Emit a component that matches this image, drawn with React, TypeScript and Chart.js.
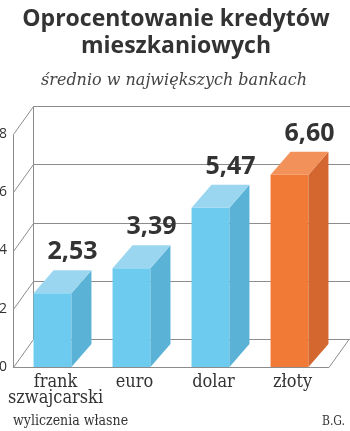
import React, { useEffect, useRef } from "react";
import { Chart, registerables } from "chart.js";

Chart.register(...registerables);

const categories: (string | string[])[] = [["frank", "szwajcarski"], "euro", "dolar", "złoty"];
const values: number[] = [2.53, 3.39, 5.47, 6.6];
const frontColors: string[] = ["#6ccbef", "#6ccbef", "#6ccbef", "#f07a36"];
const sideColors: string[] = ["#5ab3d6", "#5ab3d6", "#5ab3d6", "#d4672f"];
const topColors: string[] = ["#9bd6f1", "#9bd6f1", "#9bd6f1", "#f3915a"];
const yTicks: number[] = [0, 2, 4, 6, 8];
const yMin = 0;
const yMax = 8;

const WALL_DX = 20;
const WALL_DY = -28;
const BAR_DX = 20;
const BAR_DY = -23;

const fmt = (v: number) => v.toFixed(2).replace(".", ",");

const box3d = {
  id: "box3d",
  beforeDatasetsDraw(chart: any) {
    const { ctx, chartArea: a, scales } = chart;
    const y = scales.y;
    ctx.save();
    ctx.strokeStyle = "#8c8c8c";
    ctx.lineWidth = 1;
    for (const v of yTicks) {
      const py = Math.round(y.getPixelForValue(v)) + 0.5;
      ctx.beginPath();
      ctx.moveTo(a.left + 0.5, py);
      ctx.lineTo(a.left + WALL_DX + 0.5, py + WALL_DY);
      ctx.lineTo(a.right + WALL_DX + 2, py + WALL_DY);
      ctx.stroke();
    }
    const top = Math.round(y.getPixelForValue(yMax)) + 0.5;
    const bot = Math.round(y.getPixelForValue(yMin)) + 0.5;
    ctx.beginPath();
    ctx.moveTo(a.left + WALL_DX + 0.5, top + WALL_DY);
    ctx.lineTo(a.left + WALL_DX + 0.5, bot + WALL_DY);
    ctx.stroke();
    ctx.beginPath();
    ctx.moveTo(a.left + 0.5, top);
    ctx.lineTo(a.left + 0.5, bot);
    ctx.stroke();
    ctx.beginPath();
    ctx.moveTo(a.left, bot);
    ctx.lineTo(a.right, bot);
    ctx.lineTo(a.right + WALL_DX, bot + WALL_DY);
    ctx.stroke();
    ctx.restore();
  },
  afterDatasetsDraw(chart: any) {
    const { ctx } = chart;
    const meta = chart.getDatasetMeta(0);
    ctx.save();
    meta.data.forEach((bar: any, i: number) => {
      const { x, y, base, width } = bar.getProps(["x", "y", "base", "width"], true);
      const l = x - width / 2;
      const r = x + width / 2;
      ctx.fillStyle = sideColors[i];
      ctx.beginPath();
      ctx.moveTo(r, y);
      ctx.lineTo(r + BAR_DX, y + BAR_DY);
      ctx.lineTo(r + BAR_DX, base + BAR_DY);
      ctx.lineTo(r, base);
      ctx.closePath();
      ctx.fill();
      ctx.fillStyle = topColors[i];
      ctx.beginPath();
      ctx.moveTo(l, y);
      ctx.lineTo(l + BAR_DX, y + BAR_DY);
      ctx.lineTo(r + BAR_DX, y + BAR_DY);
      ctx.lineTo(r, y);
      ctx.closePath();
      ctx.fill();
      ctx.fillStyle = "#333333";
      ctx.font = "bold 25px 'Open Sans', sans-serif";
      ctx.textAlign = "center";
      ctx.textBaseline = "middle";
      ctx.fillText(fmt(values[i]), x + BAR_DX, y + BAR_DY - 18);
    });
    ctx.restore();
  },
};

export default function App() {
  const ref = useRef<HTMLCanvasElement | null>(null);

  useEffect(() => {
    if (!ref.current) return;
    const chart = new Chart(ref.current, {
      type: "bar",
      data: {
        labels: categories,
        datasets: [
          {
            data: values,
            backgroundColor: frontColors,
            borderWidth: 0,
            barPercentage: 0.48,
            categoryPercentage: 1,
          },
        ],
      },
      options: {
        responsive: false,
        animation: false,
        layout: { padding: { left: 0, top: 134, right: 21, bottom: 0 } },
        plugins: {
          legend: { display: false },
          tooltip: { enabled: false },
          title: { display: false },
        },
        scales: {
          x: {
            grid: { display: false, drawTicks: false },
            border: { display: false },
            ticks: {
              padding: 7,
              labelOffset: 3,
              color: "#333333",
              font: { family: "'DejaVu Serif Condensed', 'DejaVu Serif', serif", size: 18, lineHeight: "16px" },
              maxRotation: 0,
              autoSkip: false,
            },
            afterFit: (s: any) => {
              s.height = 64;
              s.paddingLeft = 0;
              s.paddingRight = 0;
            },
          },
          y: {
            min: yMin,
            max: yMax,
            grid: { display: false, drawTicks: false },
            border: { display: false },
            ticks: {
              stepSize: 2,
              padding: 6,
              color: "#333333",
              font: { family: "'Open Sans', sans-serif", size: 14 },
            },
            afterFit: (s: any) => {
              s.width = 13;
              s.paddingTop = 0;
              s.paddingBottom = 0;
            },
          },
        },
      },
      plugins: [box3d],
    });
    return () => chart.destroy();
  }, []);

  return (
    <div
      style={{
        position: "absolute",
        left: 0,
        top: 0,
        width: 350,
        height: 431,
        overflow: "hidden",
        background: "#ffffff",
      }}
    >
      <canvas ref={ref} width={350} height={431} style={{ position: "absolute", left: 0, top: 0 }} />
      <div
        style={{
          position: "absolute",
          left: 0,
          top: 4,
          width: 352,
          textAlign: "center",
          fontFamily: "'Open Sans', sans-serif",
          fontWeight: 700,
          fontSize: 23,
          lineHeight: "27px",
          color: "#333333",
        }}
      >
        Oprocentowanie kredytów
        <br />
        mieszkaniowych
      </div>
      <div
        style={{
          position: "absolute",
          left: 0,
          top: 69,
          width: 348,
          textAlign: "center",
          fontFamily: "'DejaVu Serif', serif",
          fontStyle: "italic",
          fontSize: 16,
          lineHeight: "22px",
          color: "#444444",
        }}
      >
        średnio w największych bankach
      </div>
      <div
        style={{
          position: "absolute",
          left: 13,
          top: 411,
          fontFamily: "'DejaVu Serif Condensed', 'DejaVu Serif', serif",
          fontSize: 14,
          lineHeight: "18px",
          color: "#333333",
        }}
      >
        wyliczenia własne
      </div>
      <div
        style={{
          position: "absolute",
          right: 5,
          top: 412,
          fontFamily: "'DejaVu Serif Condensed', 'DejaVu Serif', serif",
          fontSize: 12,
          lineHeight: "18px",
          color: "#333333",
        }}
      >
        B.G.
      </div>
    </div>
  );
}
